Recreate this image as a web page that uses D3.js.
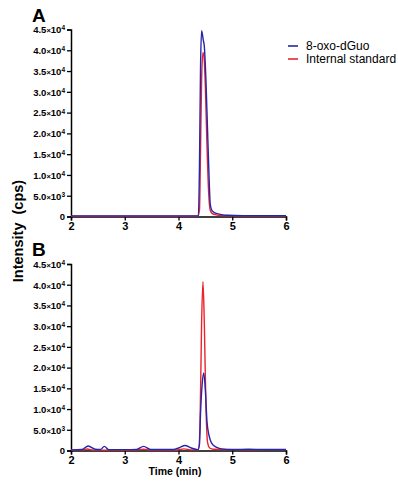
<!DOCTYPE html>
<html>
<head>
<meta charset="utf-8">
<script src="https://d3js.org/d3.v7.min.js"></script>
<style>
  body { margin: 0; background: #fff; }
  text { font-family: "Liberation Sans", Arial, sans-serif; }
</style>
</head>
<body>
<script>
// ---- data ----
var xTicks = [2, 3, 4, 5, 6];
var yTicks = [0, 5000, 10000, 15000, 20000, 25000, 30000, 35000, 40000, 45000];
var seriesNames = ["8-oxo-dGuo", "Internal standard"];

// panel A
var timeA_oxo = [2.0, 2.5, 3.0, 3.5, 4.0, 4.3, 4.37, 4.39, 4.41, 4.43, 4.46, 4.48, 4.51, 4.54, 4.57, 4.59, 4.62, 4.66, 4.72, 4.8, 4.9, 5.2, 5.6, 6.0];
var intA_oxo  = [150, 150, 150, 150, 150, 150, 200, 12000, 36000, 44700, 42500, 41000, 33000, 21000, 9000, 3000, 1500, 1000, 700, 450, 300, 200, 200, 200];
var timeA_is  = [2.0, 3.0, 4.0, 4.36, 4.39, 4.41, 4.43, 4.455, 4.48, 4.5, 4.53, 4.56, 4.59, 4.63, 4.7, 4.8, 5.2, 6.0];
var intA_is   = [100, 100, 100, 100, 1500, 16000, 33000, 39500, 37500, 31000, 17000, 6000, 1500, 700, 400, 250, 150, 150];

// panel B
var timeB_oxo = [2.0, 2.2, 2.32, 2.45, 2.55, 2.62, 2.7, 3.0, 3.22, 3.35, 3.48, 3.9, 4.02, 4.12, 4.24, 4.36, 4.39, 4.41, 4.44, 4.47, 4.5, 4.53, 4.57, 4.62, 4.7, 4.8, 5.0, 5.3, 5.6, 6.0];
var intB_oxo  = [150, 250, 1100, 300, 250, 1000, 200, 200, 250, 1000, 250, 250, 700, 1200, 600, 200, 1500, 9000, 16000, 18700, 14500, 7000, 3500, 1700, 800, 400, 250, 300, 250, 250];
var timeB_is  = [2.0, 2.2, 2.3, 2.42, 3.2, 3.35, 3.48, 3.95, 4.1, 4.25, 4.37, 4.4, 4.43, 4.455, 4.48, 4.51, 4.54, 4.58, 4.65, 5.0, 6.0];
var intB_is   = [100, 150, 350, 100, 100, 300, 100, 100, 400, 150, 150, 6000, 31000, 40700, 31000, 11000, 2000, 600, 300, 200, 200];

var colors = ["#2626aa", "#e8242e"];

var width = 398, height = 481;
var svg = d3.select("body").append("svg")
    .attr("width", width)
    .attr("height", height);

var x = d3.scaleLinear().domain([2, 6]).range([71, 286]);

function zip(t, v) {
    return t.map(function (d, i) { return { t: d, v: v[i] }; });
}

function yLabel(g, d) {
    if (d === 0) { g.text("0"); return; }
    var exp = Math.floor(Math.log10(d));
    var mant = (d / Math.pow(10, exp)).toFixed(1);
    g.text(mant);
    g.append("tspan").attr("font-size", "7.5px").text("\u00d7");
    g.append("tspan").text("10");
    g.append("tspan")
        .attr("dy", "-0.45em")
        .attr("font-size", "6.5px")
        .text(exp);
}

function panel(top, bottom, letter, data) {
    var y = d3.scaleLinear().domain([0, 45000]).range([bottom, top]);
    var g = svg.append("g");

    var line = d3.line()
        .x(function (d) { return x(d.t); })
        .y(function (d) { return y(d.v); })
        .curve(d3.curveMonotoneX);

    // axes
    var ya = g.append("g")
        .attr("transform", "translate(71,0)")
        .call(d3.axisLeft(y).tickValues(yTicks).tickSize(4).tickFormat(""));
    ya.selectAll("text").remove();
    ya.selectAll(".tick").append("text")
        .attr("x", -6)
        .attr("dy", "0.35em")
        .attr("text-anchor", "end")
        .attr("font-size", "9.5px")
        .attr("font-weight", "bold")
        .attr("fill", "#000")
        .each(function (d) { yLabel(d3.select(this), d); });

    var xa = g.append("g")
        .attr("transform", "translate(0," + bottom + ")")
        .call(d3.axisBottom(x).tickValues(xTicks).tickSize(4).tickFormat(d3.format("d")));
    xa.selectAll("text")
        .attr("font-size", "11px")
        .attr("font-weight", "bold")
        .attr("font-family", "Liberation Sans, Arial, sans-serif")
        .attr("dy", "0.55em");

    [ya, xa].forEach(function (a) {
        a.select(".domain").attr("stroke", "#000").attr("stroke-width", 1.5);
        a.selectAll(".tick line").attr("stroke", "#000").attr("stroke-width", 1.3);
    });

    data.forEach(function (s) {
        g.append("path")
            .datum(s.pts)
            .attr("fill", "none")
            .attr("stroke", s.color)
            .attr("stroke-width", 1.4)
            .attr("stroke-linejoin", "round")
            .attr("d", line);
    });

    g.append("text")
        .attr("x", 32)
        .attr("y", top - 8)
        .attr("font-size", "19px")
        .attr("font-weight", "bold")
        .text(letter);
}

panel(29.5, 216.5, "A", [
    { color: colors[1], pts: zip(timeA_is, intA_is) },
    { color: colors[0], pts: zip(timeA_oxo, intA_oxo) }
]);
panel(264, 450.5, "B", [
    { color: colors[1], pts: zip(timeB_is, intB_is) },
    { color: colors[0], pts: zip(timeB_oxo, intB_oxo) }
]);

// axis titles
svg.append("text")
    .attr("transform", "translate(23,231) rotate(-90)")
    .attr("text-anchor", "middle")
    .attr("font-size", "14.5px")
    .attr("font-weight", "bold")
    .style("white-space", "pre")
    .text("Intensity  (cps)");

svg.append("text")
    .attr("x", 175)
    .attr("y", 475)
    .attr("text-anchor", "middle")
    .attr("font-size", "10.5px")
    .attr("font-weight", "bold")
    .text("Time (min)");

// legend
var leg = svg.append("g");
seriesNames.forEach(function (n, i) {
    var ly = 46 + i * 13;
    leg.append("line")
        .attr("x1", 288).attr("x2", 298)
        .attr("y1", ly).attr("y2", ly)
        .attr("stroke", colors[i])
        .attr("stroke-width", 1.6);
    leg.append("text")
        .attr("x", 306)
        .attr("y", ly)
        .attr("dy", "0.35em")
        .attr("font-size", "12px")
        .text(n);
});
</script>
</body>
</html>
